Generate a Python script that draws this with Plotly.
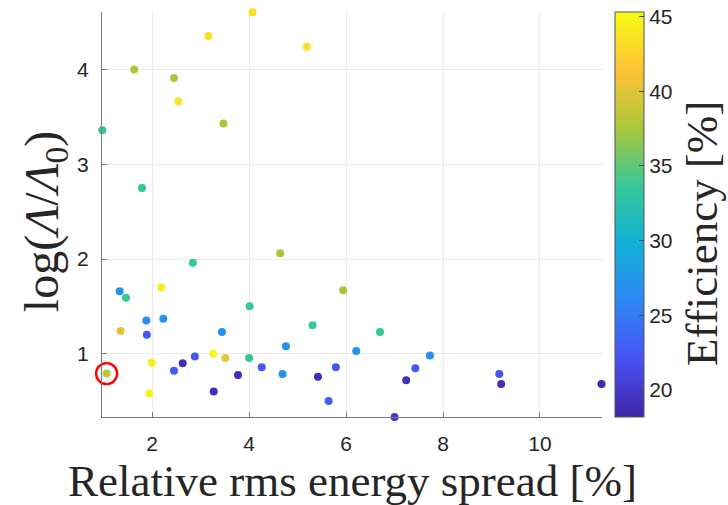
import plotly.graph_objects as go

# Relative rms energy spread [%]
spread = [4.07, 3.16, 5.19, 2.54, 1.63, 2.45, 3.47, 0.97, 1.79,
          4.64, 2.84, 1.33, 1.46, 2.19, 5.94, 4.01, 5.31, 1.88, 2.23,
          1.35, 1.89, 3.44, 4.76, 6.21, 6.70, 7.73, 3.26, 2.88, 3.51,
          4.00, 1.99, 2.63, 2.45, 1.06, 4.26, 3.77, 4.69, 5.42, 5.79,
          7.43, 7.24, 1.94, 3.27, 5.64, 7.00, 9.16, 9.20, 11.27]
# log(Lambda/Lambda0)
loglam = [4.605, 4.355, 4.24, 3.665, 4.00, 3.91, 3.43, 3.36, 2.75,
          2.06, 1.96, 1.66, 1.59, 1.70, 1.67, 1.50, 1.30, 1.35, 1.37,
          1.24, 1.20, 1.23, 1.08, 1.03, 1.23, 0.98, 1.00, 0.97, 0.955,
          0.955, 0.905, 0.90, 0.82, 0.79, 0.857, 0.775, 0.785, 0.757, 0.857,
          0.846, 0.72, 0.58, 0.60, 0.50, 0.333, 0.785, 0.68, 0.68]
# Efficiency [%]
efficiency = [43.5, 43.5, 43.5, 43.5, 37.5, 37.5, 37.5, 33.5, 33.5,
              37.5, 33.5, 27, 33.5, 44.5, 37.5, 33.5, 33.5, 27, 27,
              40, 22.5, 27, 27, 27, 33.5, 27, 45, 22.5, 40.5,
              33.5, 44.5, 19, 22.5, 38.5, 22.5, 19, 27, 19, 22.5,
              22.5, 19, 44.5, 19, 23, 20, 22.5, 19, 18.5]
cbar_ticks = [20, 25, 30, 35, 40, 45]
highlight_x = [1.06]
highlight_y = [0.79]

parula = [
    [0.0, "rgb(62,38,168)"],
    [1/7, "rgb(72,82,244)"],
    [2/7, "rgb(46,135,247)"],
    [3/7, "rgb(18,177,214)"],
    [4/7, "rgb(55,200,151)"],
    [5/7, "rgb(171,199,57)"],
    [6/7, "rgb(254,195,56)"],
    [1.0, "rgb(249,251,21)"],
]

tickfont = dict(family="Liberation Sans, Arial, sans-serif", size=21, color="#262626")
serif = "Liberation Serif, Times New Roman, serif"

fig = go.Figure()
fig.add_trace(go.Scatter(
    x=spread, y=loglam, mode="markers", cliponaxis=False,
    marker=dict(size=8, color=efficiency, colorscale=parula, cmin=18.2, cmax=45.3,
                line=dict(width=0), showscale=True,
                colorbar=dict(thickness=29, thicknessmode="pixels", len=1.0, lenmode="fraction",
                              x=1.026, xanchor="left", xpad=0, y=0.5, yanchor="middle", ypad=0,
                              outlinecolor="#555555", outlinewidth=1,
                              ticks="inside", ticklen=5, tickcolor="#444444",
                              tickvals=cbar_ticks, tickfont=tickfont)),
    showlegend=False, hoverinfo="skip"))
fig.add_trace(go.Scatter(
    x=highlight_x, y=highlight_y, mode="markers", cliponaxis=False,
    marker=dict(symbol="circle-open", size=21, color="#ff0000", line=dict(width=2.4, color="#ff0000")),
    showlegend=False, hoverinfo="skip"))

fig.update_layout(
    width=728, height=505, margin=dict(l=102, r=126, t=12, b=88),
    paper_bgcolor="white", plot_bgcolor="white",
    xaxis=dict(range=[0.965, 11.28], tickvals=[2, 4, 6, 8, 10], showgrid=True, gridcolor="#ebebeb",
               zeroline=False, showline=True, linecolor="#7a7a7a", linewidth=1,
               ticks="inside", ticklen=5, tickcolor="#7a7a7a", tickfont=tickfont,
               ticklabelstandoff=8),
    yaxis=dict(range=[0.332, 4.608], tickvals=[1, 2, 3, 4], showgrid=True, gridcolor="#ebebeb",
               zeroline=False, showline=True, linecolor="#7a7a7a", linewidth=1,
               ticks="inside", ticklen=5, tickcolor="#7a7a7a", tickfont=tickfont,
               ticklabelstandoff=8),
    annotations=[
        dict(text="Relative rms energy spread [%]", xref="paper", yref="paper", x=0.5, y=-0.157,
             xanchor="center", yanchor="middle", showarrow=False,
             font=dict(family=serif, size=45, color="#262626")),
        dict(text="log(<i>Λ</i>/<i>Λ</i><sub>0</sub>)", xref="paper", yref="paper", x=-0.114, y=0.481,
             xanchor="center", yanchor="middle", textangle=-90, showarrow=False,
             font=dict(family=serif, size=48, color="#262626")),
        dict(text="Efficiency [%]", xref="paper", yref="paper", x=1.2, y=0.452,
             xanchor="center", yanchor="middle", textangle=-90, showarrow=False,
             font=dict(family=serif, size=45, color="#262626")),
    ],
)
fig.write_html("out.html")
